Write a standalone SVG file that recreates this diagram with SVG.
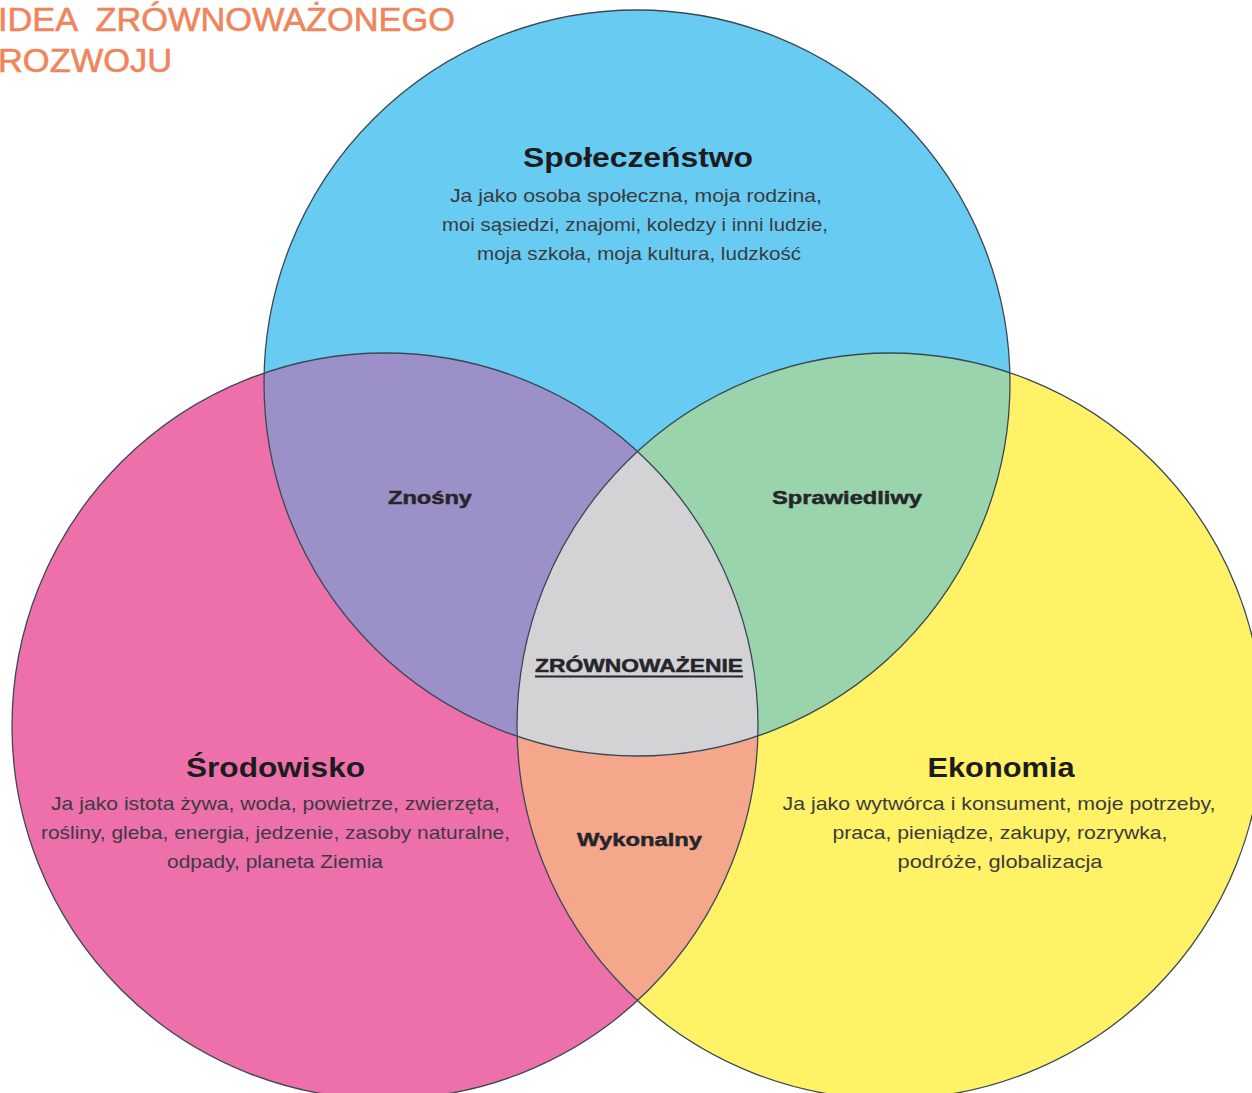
<svg xmlns="http://www.w3.org/2000/svg" xmlns:xlink="http://www.w3.org/1999/xlink" width="1252" height="1093" viewBox="0 0 1252 1093">
<style>
.title{font-family:"Liberation Sans",Arial,sans-serif;font-size:34px;fill:#F0855B;stroke:#F0855B;stroke-width:0.6;white-space:pre;}
.head{font-family:"Liberation Sans",Arial,sans-serif;font-size:27px;font-weight:bold;fill:#1c1c1e;text-anchor:middle;}
.body{font-family:"Liberation Sans",Arial,sans-serif;font-size:19px;fill:#3b3b40;text-anchor:middle;}
.mid{font-family:"Liberation Sans",Arial,sans-serif;font-size:19px;font-weight:bold;fill:#26262a;stroke:#26262a;stroke-width:0.5;text-anchor:middle;}
.edge{fill:none;stroke:#3a4856;stroke-width:1.3;}
</style>
<defs>
<circle id="cS" cx="637" cy="383" r="373"/>
<circle id="cE" cx="385" cy="726" r="373"/>
<circle id="cK" cx="890" cy="726" r="373"/>
<clipPath id="clipS"><use xlink:href="#cS"/></clipPath>
<clipPath id="clipE"><use xlink:href="#cE"/></clipPath>
<clipPath id="clipK"><use xlink:href="#cK"/></clipPath>
</defs>
<rect width="1252" height="1093" fill="#ffffff"/>
<g id="title">
<text class="title" x="-2" y="31" textLength="457" lengthAdjust="spacingAndGlyphs" xml:space="preserve">IDEA  ZRÓWNOWAŻONEGO</text>
<text class="title" x="-2" y="72" textLength="174" lengthAdjust="spacingAndGlyphs">ROZWOJU</text>
</g>
<g id="circles">
<use xlink:href="#cS" fill="#68CCF2"/>
<use xlink:href="#cE" fill="#EE70AB"/>
<use xlink:href="#cK" fill="#FFF266"/>
<g clip-path="url(#clipS)"><use xlink:href="#cE" fill="#9C90C9"/></g>
<g clip-path="url(#clipS)"><use xlink:href="#cK" fill="#9AD4AC"/></g>
<g clip-path="url(#clipE)"><use xlink:href="#cK" fill="#F5A78C"/></g>
<g clip-path="url(#clipS)"><g clip-path="url(#clipE)"><use xlink:href="#cK" fill="#D3D3D6"/></g></g>
<use xlink:href="#cS" class="edge"/>
<use xlink:href="#cE" class="edge"/>
<use xlink:href="#cK" class="edge"/>
</g>
<g id="connectors"/>
<g id="node-spoleczenstwo">
<text class="head" x="638" y="167" textLength="230" lengthAdjust="spacingAndGlyphs">Społeczeństwo</text>
<text class="body" x="636" y="202" textLength="372" lengthAdjust="spacingAndGlyphs">Ja jako osoba społeczna, moja rodzina,</text>
<text class="body" x="635" y="231" textLength="386" lengthAdjust="spacingAndGlyphs">moi sąsiedzi, znajomi, koledzy i inni ludzie,</text>
<text class="body" x="639" y="260" textLength="324" lengthAdjust="spacingAndGlyphs">moja szkoła, moja kultura, ludzkość</text>
</g>
<g id="node-srodowisko">
<text class="head" x="275.5" y="777" textLength="179" lengthAdjust="spacingAndGlyphs">Środowisko</text>
<text class="body" x="275.5" y="810" textLength="449" lengthAdjust="spacingAndGlyphs">Ja jako istota żywa, woda, powietrze, zwierzęta,</text>
<text class="body" x="275.5" y="839" textLength="469" lengthAdjust="spacingAndGlyphs">rośliny, gleba, energia, jedzenie, zasoby naturalne,</text>
<text class="body" x="275" y="868" textLength="216" lengthAdjust="spacingAndGlyphs">odpady, planeta Ziemia</text>
</g>
<g id="node-ekonomia">
<text class="head" x="1001" y="777" textLength="147" lengthAdjust="spacingAndGlyphs">Ekonomia</text>
<text class="body" x="999" y="810" textLength="433" lengthAdjust="spacingAndGlyphs">Ja jako wytwórca i konsument, moje potrzeby,</text>
<text class="body" x="1000" y="839" textLength="335" lengthAdjust="spacingAndGlyphs">praca, pieniądze, zakupy, rozrywka,</text>
<text class="body" x="1000" y="868" textLength="205" lengthAdjust="spacingAndGlyphs">podróże, globalizacja</text>
</g>
<g id="node-znosny">
<text class="mid" x="430" y="504" textLength="84" lengthAdjust="spacingAndGlyphs">Znośny</text>
</g>
<g id="node-sprawiedliwy">
<text class="mid" x="847" y="504" textLength="150" lengthAdjust="spacingAndGlyphs">Sprawiedliwy</text>
</g>
<g id="node-zrownowazenie">
<text class="mid" x="639" y="672" textLength="208" lengthAdjust="spacingAndGlyphs">ZRÓWNOWAŻENIE</text>
<line x1="535" y1="676.5" x2="743" y2="676.5" stroke="#26262a" stroke-width="2"/>
</g>
<g id="node-wykonalny">
<text class="mid" x="639.5" y="846" textLength="125" lengthAdjust="spacingAndGlyphs">Wykonalny</text>
</g>
</svg>
